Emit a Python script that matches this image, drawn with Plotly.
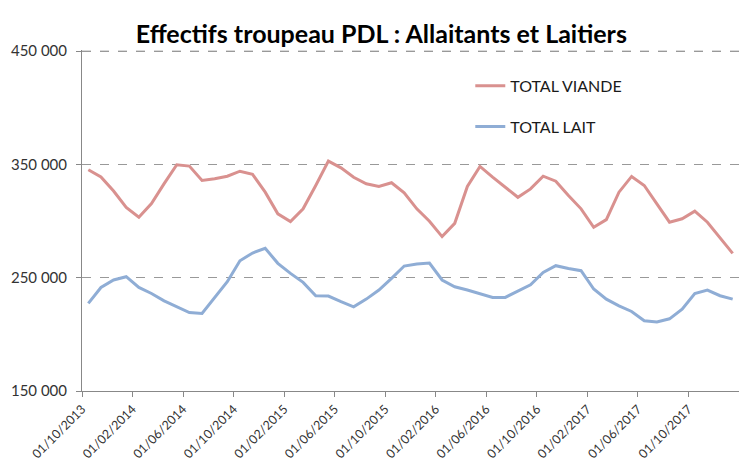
import plotly.graph_objects as go

months = [f"01/{m:02d}/{y}" for y, m in
          [(2013, 10), (2013, 11), (2013, 12)] +
          [(yy, mm) for yy in (2014, 2015, 2016, 2017) for mm in range(1, 13)] +
          [(2018, 1)]]

total_viande = [345300, 339000, 326500, 312000, 303400, 315500, 333000, 349700, 348500, 335800,
                337300, 339600, 344000, 341200, 325500, 306400, 299600, 310800, 331400, 352900,
                347000, 338700, 332900, 330500, 333800, 325000, 310800, 299800, 286300, 298000,
                330500, 348200, 338800, 330000, 321000, 328400, 339600, 335200, 322500, 310800,
                294500, 301300, 325500, 339400, 331400, 315200, 299000, 302000, 308700, 299000,
                285700, 271500]

total_lait = [227300, 241400, 248000, 250900, 241400, 236100, 229600, 224300, 219300, 218400,
              232600, 246500, 265000, 271800, 276000, 262700, 253800, 245900, 234100, 233800,
              228800, 224300, 231100, 239100, 249400, 260300, 262100, 263000, 248000, 242000,
              239100, 236100, 232600, 232600, 238500, 243800, 254700, 260600, 258100, 256200,
              240000, 231100, 225200, 220200, 212000, 211000, 213700, 222300, 236100, 239100,
              234100, 231100]

tick_labels = ["01/10/2013", "01/02/2014", "01/06/2014", "01/10/2014", "01/02/2015",
               "01/06/2015", "01/10/2015", "01/02/2016", "01/06/2016", "01/10/2016",
               "01/02/2017", "01/06/2017", "01/10/2017"]
y_ticks = [150000, 250000, 350000, 450000]
y_tick_labels = ["150 000", "250 000", "350 000", "450 000"]

idx = list(range(len(months)))
tick_pos = [i - 0.5 for i in range(0, len(months), 4)]

fig = go.Figure()
fig.add_trace(go.Scatter(x=idx, y=total_viande, mode="lines", name="TOTAL VIANDE",
                         legendgroup="a", line=dict(color="#D9918F", width=3),
                         customdata=months))
fig.add_trace(go.Scatter(x=idx, y=total_lait, mode="lines", name="TOTAL LAIT",
                         legendgroup="b", line=dict(color="#8FADD5", width=3),
                         customdata=months))

fig.update_layout(
    width=739, height=471,
    margin=dict(l=82, r=0, t=50, b=80),
    paper_bgcolor="white", plot_bgcolor="white",
    font=dict(family="Lato, 'Open Sans', sans-serif", color="#404040", size=13),
    title=dict(text="<b>Effectifs troupeau PDL : Allaitants et Laitiers</b>",
               x=0.516, xanchor="center", xref="container",
               y=1 - 34 / 471, yanchor="middle", yref="container",
               font=dict(size=25, color="black")),
    showlegend=True,
    legend=dict(x=0.591, xanchor="left", y=0.945, yanchor="top",
                traceorder="grouped", tracegroupgap=17,
                font=dict(size=16, color="#1a1a1a"), bgcolor="rgba(0,0,0,0)",
                itemwidth=30),
    xaxis=dict(range=[-0.5, len(months) - 0.5], tickmode="array", tickvals=tick_pos,
               ticktext=tick_labels, tickangle=-45, showgrid=False, zeroline=False,
               showline=True, linecolor="#888888", linewidth=1,
               ticks="outside", ticklen=5, tickcolor="#888888",
               tickfont=dict(size=12.5, color="#333333")),
    yaxis=dict(range=[150000, 451000], tickmode="array", tickvals=y_ticks,
               ticktext=y_tick_labels, showgrid=True, gridcolor="#999999",
               griddash="dash", gridwidth=1, zeroline=False,
               showline=True, linecolor="#888888", linewidth=1,
               ticks="outside", ticklen=5, tickcolor="#888888",
               ticklabelstandoff=6,
               tickfont=dict(size=15, color="#333333")),
)

# dashed gridline at the top value (450 000)
fig.add_hline(y=450000, line=dict(color="#999999", width=1, dash="dash"))

fig.write_html("out.html", config={"displayModeBar": False},
               post_script="document.body.style.margin='0';document.body.style.padding='0';")
